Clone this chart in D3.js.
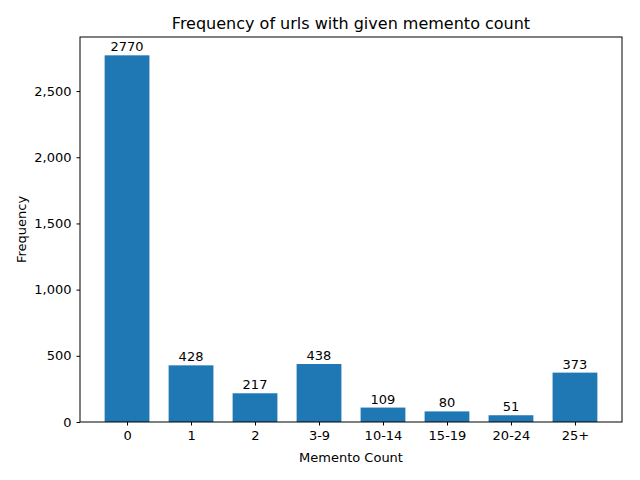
<!DOCTYPE html>
<html><head><meta charset="utf-8">
<script src="https://cdn.jsdelivr.net/npm/d3@7"></script>
<style>body{margin:0;background:#fff}text{font-family:"DejaVu Sans",sans-serif}</style>
</head><body><script>
var categories = ["0","1","2","3-9","10-14","15-19","20-24","25+"];
var values = [2770,428,217,438,109,80,51,373];
var yTicks = [0,500,1000,1500,2000,2500];

var W=640,H=480,L=80,R=622,T=37,B=422;
var svg=d3.select("body").append("svg").attr("width",W).attr("height",H);
var x=d3.scaleLinear().domain([-0.735,categories.length-1+0.735]).range([L,R]);
var y=d3.scaleLinear().domain([0,2770*1.05]).range([B,T]);
var bw=x(0.35)-x(-0.35);

svg.selectAll("rect.bar").data(values).enter().append("rect")
 .attr("x",function(d,i){return x(i)-bw/2;}).attr("y",function(d){return y(d);})
 .attr("width",bw).attr("height",function(d){return B-y(d);}).attr("fill","#1f77b4");
svg.selectAll("text.lab").data(values).enter().append("text")
 .attr("x",function(d,i){return x(i);}).attr("y",function(d){return y(d)-4;})
 .attr("text-anchor","middle").attr("font-size",13).text(function(d){return d;});

var xa=svg.append("g").attr("transform","translate(0,"+B+")")
 .call(d3.axisBottom(x).tickValues(d3.range(categories.length)).tickFormat(function(i){return categories[i];}).tickSizeOuter(0).tickSize(3.5).tickPadding(5));
var ya=svg.append("g").attr("transform","translate("+L+",0)")
 .call(d3.axisLeft(y).tickValues(yTicks).tickSizeOuter(0).tickSize(3.5).tickPadding(5));
[xa,ya].forEach(function(a){a.selectAll("text").attr("font-size",13).attr("fill","#000");a.select(".domain").remove();a.selectAll("line").attr("stroke","#000");});
svg.append("rect").attr("x",L).attr("y",T).attr("width",R-L).attr("height",B-T).attr("fill","none").attr("stroke","#000").attr("stroke-width",1);

svg.append("text").attr("x",(L+R)/2).attr("y",29).attr("text-anchor","middle").attr("font-size",16).text("Frequency of urls with given memento count");
svg.append("text").attr("x",(L+R)/2).attr("y",462).attr("text-anchor","middle").attr("font-size",13).text("Memento Count");
svg.append("text").attr("transform","translate(26,"+((T+B)/2)+") rotate(-90)").attr("text-anchor","middle").attr("font-size",13).text("Frequency");
</script></body></html>
